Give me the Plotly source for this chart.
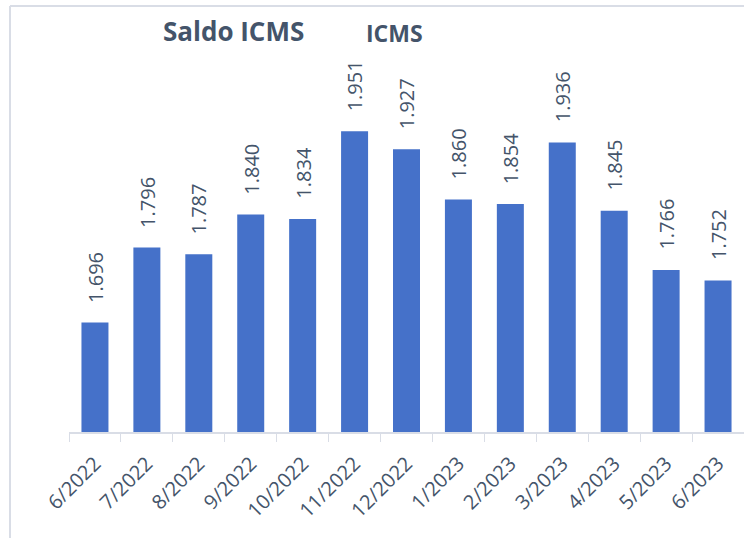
import plotly.graph_objects as go

months = ["6/2022", "7/2022", "8/2022", "9/2022", "10/2022", "11/2022", "12/2022",
          "1/2023", "2/2023", "3/2023", "4/2023", "5/2023", "6/2023"]
saldo_icms = [1696, 1796, 1787, 1840, 1834, 1951, 1927,
              1860, 1854, 1936, 1845, 1766, 1752]

TEXT = "#44546a"
GRID = "#d9dde6"


def create_chart():
    fig = go.Figure(go.Bar(
        x=months,
        y=saldo_icms,
        marker=dict(color="#4571c9", line=dict(width=0)),
        hoverinfo="x+y",
    ))

    # value labels, rotated, floating a little above each bar
    for m, v in zip(months, saldo_icms):
        fig.add_annotation(
            x=m, y=v, text=f"{v:,}".replace(",", "."),
            textangle=-90, showarrow=False,
            yanchor="bottom", yshift=18,
            font=dict(family="Open Sans", size=20, color=TEXT))

    fig.add_annotation(
        xref="paper", yref="paper", x=(233 - 69) / 675, y=1 + (57 - 31) / 375,
        xanchor="center", yanchor="middle",
        text="<b>Saldo ICMS</b>", showarrow=False,
        font=dict(family="Open Sans", size=26, color=TEXT))
    fig.add_annotation(
        xref="paper", yref="paper", x=(394 - 69) / 675, y=1 + (57 - 33) / 375,
        xanchor="center", yanchor="middle",
        text="<b>ICMS</b>", showarrow=False,
        font=dict(family="Open Sans", size=23, color=TEXT))

    # frame of the chart area
    fig.add_shape(type="line", xref="paper", yref="paper",
                  x0=-59 / 675, x1=1.01, y0=1 + 51 / 375, y1=1 + 51 / 375,
                  line=dict(color=GRID, width=2))
    fig.add_shape(type="line", xref="paper", yref="paper",
                  x0=-59 / 675, x1=-59 / 675, y0=1 + 51 / 375, y1=-0.3,
                  line=dict(color=GRID, width=2))

    fig.update_layout(
        width=744, height=538,
        margin=dict(l=69, r=0, t=57, b=106),
        paper_bgcolor="white", plot_bgcolor="white",
        bargap=0.48,
        showlegend=False,
        xaxis=dict(
            tickangle=-45, ticks="outside", tickson="boundaries",
            ticklen=8, tickcolor=GRID, showline=True, linecolor=GRID,
            linewidth=2, showgrid=False, ticklabelstandoff=10,
            tickfont=dict(family="Open Sans", size=20, color=TEXT)),
        yaxis=dict(range=[1550, 2050], visible=False, showgrid=False),
    )
    return fig


def main():
    fig = create_chart()
    fig.write_html("out.html", config={"displayModeBar": False},
                   post_script="document.body.style.margin='0';")


if __name__ == '__main__':
    main()
